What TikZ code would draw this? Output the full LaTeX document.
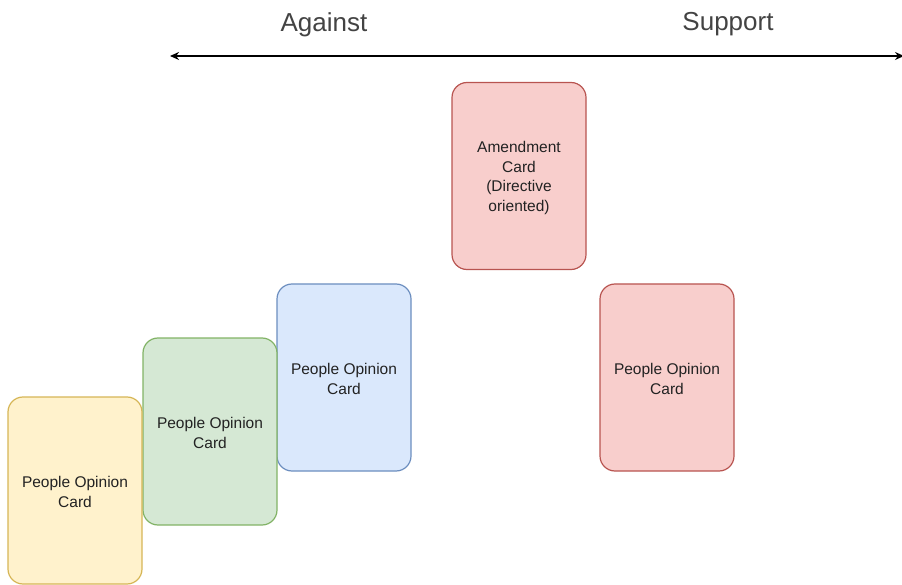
\documentclass[tikz,border=0pt]{standalone}
\usepackage{fontspec}
\setmainfont{Liberation Sans}
\usetikzlibrary{arrows.meta}
\definecolor{yelF}{HTML}{FFF2CC}\definecolor{yelD}{HTML}{D6B656}
\definecolor{grnF}{HTML}{D5E8D4}\definecolor{grnD}{HTML}{82B366}
\definecolor{bluF}{HTML}{DAE8FC}\definecolor{bluD}{HTML}{6C8EBF}
\definecolor{redF}{HTML}{F8CECC}\definecolor{redD}{HTML}{B85450}
\definecolor{txt}{HTML}{222222}
\tikzset{
  card/.style={draw, line width=1.2pt, rounded corners=15pt, minimum width=134pt, minimum height=187pt,
    inner sep=0pt, align=center, text=txt, font=\fontsize{15.5pt}{19.5pt}\selectfont},
  cardtext/.style={inner sep=0pt, align=center, text=txt, font=\fontsize{15.5pt}{19.5pt}\selectfont},
  title/.style={text=txt!85, font=\fontsize{26pt}{30pt}\selectfont, inner sep=0pt},
  axis/.style={line width=1.5pt, {Stealth[length=9pt,width=8pt]}-{Stealth[length=9pt,width=8pt]}}
}
\begin{document}
\begin{tikzpicture}[x=1pt,y=-1pt]
\useasboundingbox (0,0) rectangle (902,585);
\node[title] (against) at (324,24.5) {Against};
\node[title] (support) at (728,24.5) {Support};
\coordinate (aL) at (170,56);
\coordinate (aR) at (904,56);
\draw[axis] (aL) -- (aR);
\node[card, fill=redF, draw=redD] (amend) at (519,176) {};
\node[cardtext] (amendtxt) at (519,178) {Amendment\\Card\\(Directive\\oriented)};
\node[card, fill=redF, draw=redD] (red) at (667,377.5) {};
\node[cardtext] at ([yshift=-1.5pt]red.center) {People Opinion\\Card};
\node[card, fill=bluF, draw=bluD] (blue) at (344,377.5) {};
\node[cardtext] at ([yshift=-1.5pt]blue.center) {People Opinion\\Card};
\node[card, fill=grnF, draw=grnD] (green) at (210,431.5) {};
\node[cardtext] at ([yshift=-1.5pt]green.center) {People Opinion\\Card};
\node[card, fill=yelF, draw=yelD] (yellow) at (75,490.5) {};
\node[cardtext] at ([yshift=-1.5pt]yellow.center) {People Opinion\\Card};
\end{tikzpicture}
\end{document}
